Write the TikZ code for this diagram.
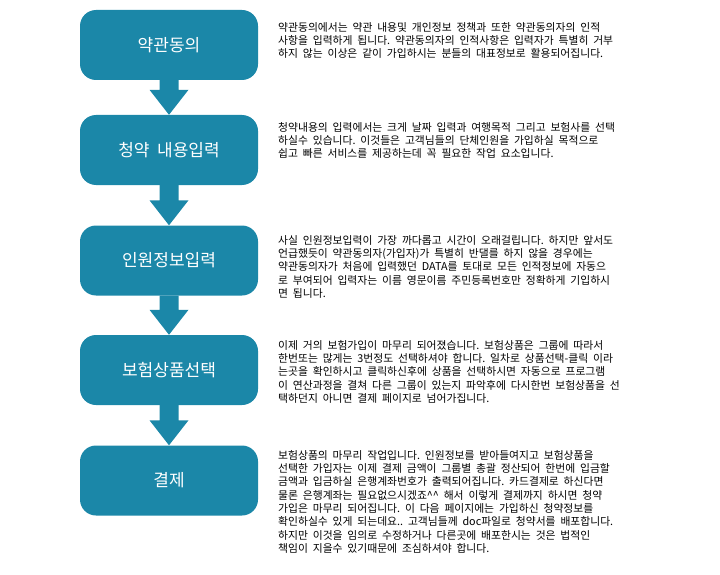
\documentclass[tikz,border=0pt]{standalone}
\usepackage{fontspec}
\newfontfamily\cjk{Noto Sans CJK KR}
\newfontfamily\cjkd[WordSpace=2]{Noto Sans CJK KR}
\usetikzlibrary{calc}
\frenchspacing
\definecolor{boxblue}{RGB}{27,135,168}
\tikzset{
  stepbox/.style={fill=boxblue, rounded corners=16pt, minimum width=178pt, minimum height=70pt,
    inner sep=0pt, text=white, font=\cjk\fontsize{17}{20}\selectfont},
  desc/.style={anchor=north west, inner sep=0pt, align=left,
    font=\cjkd\fontsize{10.8}{13.3}\selectfont},
  flowarrow/.style={fill=boxblue}
}
\newcommand{\flowarr}[2]{%
  \fill[flowarrow] ($(#1.south)+(-9.5,0)$) -- ($(#1.south)+(9.5,0)$)
    -- ($(#2.north)+(9.5,-25)$) -- ($(#2.north)+(19.5,-25)$) -- (#2.north)
    -- ($(#2.north)+(-19.5,-25)$) -- ($(#2.north)+(-9.5,-25)$) -- cycle;}
\begin{document}
\begin{tikzpicture}[x=1pt,y=-1pt]
\useasboundingbox (0,0) rectangle (720,575);
\node[stepbox] (b1) at (169,45) {약관동의};
\node[stepbox] (b2) at (169,150) {청약 내용입력};
\node[stepbox] (b3) at (169,260.5) {인원정보입력};
\node[stepbox] (b4) at (169,370) {보험상품선택};
\node[stepbox] (b5) at (169,480.5) {결제};
\flowarr{b1}{b2}
\flowarr{b2}{b3}
\flowarr{b3}{b4}
\flowarr{b4}{b5}
\node[desc] (t1) at (278,22) {약관동의에서는 약관 내용및 개인정보 정책과 또한 약관동의자의 인적\\
사항을 입력하게 됩니다. 약관동의자의 인적사항은 입력자가 특별히 거부\\
하지 않는 이상은 같이 가입하시는 분들의 대표정보로 활용되어집니다.};
\node[desc] (t2) at (278,122) {청약내용의 입력에서는 크게 날짜 입력과 여행목적 그리고 보험사를 선택\\
하실수 있습니다. 이것들은 고객님들의 단체인원을 가입하실 목적으로\\
쉽고 빠른 서비스를 제공하는데 꼭 필요한 작업 요소입니다.};
\node[desc] (t3) at (278,235) {사실 인원정보입력이 가장 까다롭고 시간이 오래걸립니다. 하지만 앞서도\\
언급했듯이 약관동의자(가입자)가 특별히 반댈를 하지 않을 경우에는\\
약관동의자가 처음에 입력했던 DATA를 토대로 모든 인적정보에 자동으\\
로 부여되어 입력자는 이름 영문이름 주민등록번호만 정확하게 기입하시\\
면 됩니다.};
\node[desc] (t4) at (278,340) {이제 거의 보험가입이 마무리 되어졌습니다. 보험상품은 그룹에 따라서\\
한번또는 많게는 3번정도 선택하셔야 합니다. 일차로 상품선택-클릭 이라\\
는곳을 확인하시고 클릭하신후에 상품을 선택하시면 자동으로 프로그램\\
이 연산과정을 결쳐 다른 그룹이 있는지 파악후에 다시한번 보험상품을 선\\
택하던지 아니면 결제 페이지로 넘어가집니다.};
\node[desc] (t5) at (278,450) {보험상품의 마무리 작업입니다. 인원정보를 받아들여지고 보험상품을\\
선택한 가입자는 이제 결제 금액이 그룹별 총괄 정산되어 한번에 입금할\\
금액과 입금하실 은행계좌번호가 출력되어집니다. 카드결제로 하신다면\\
물론 은행계좌는 필요없으시겠죠\textasciicircum\textasciicircum{} 해서 이렇게 결제까지 하시면 청약\\
가입은 마무리 되어집니다. 이 다음 페이지에는 가입하신 청약정보를\\
확인하실수 있게 되는데요.. 고객님들께 doc파일로 청약서를 배포합니다.\\
하지만 이것을 임의로 수정하거나 다른곳에 배포한시는 것은 법적인\\
책임이 지을수 있기때문에 조심하셔야 합니다.};
\end{tikzpicture}
\end{document}
